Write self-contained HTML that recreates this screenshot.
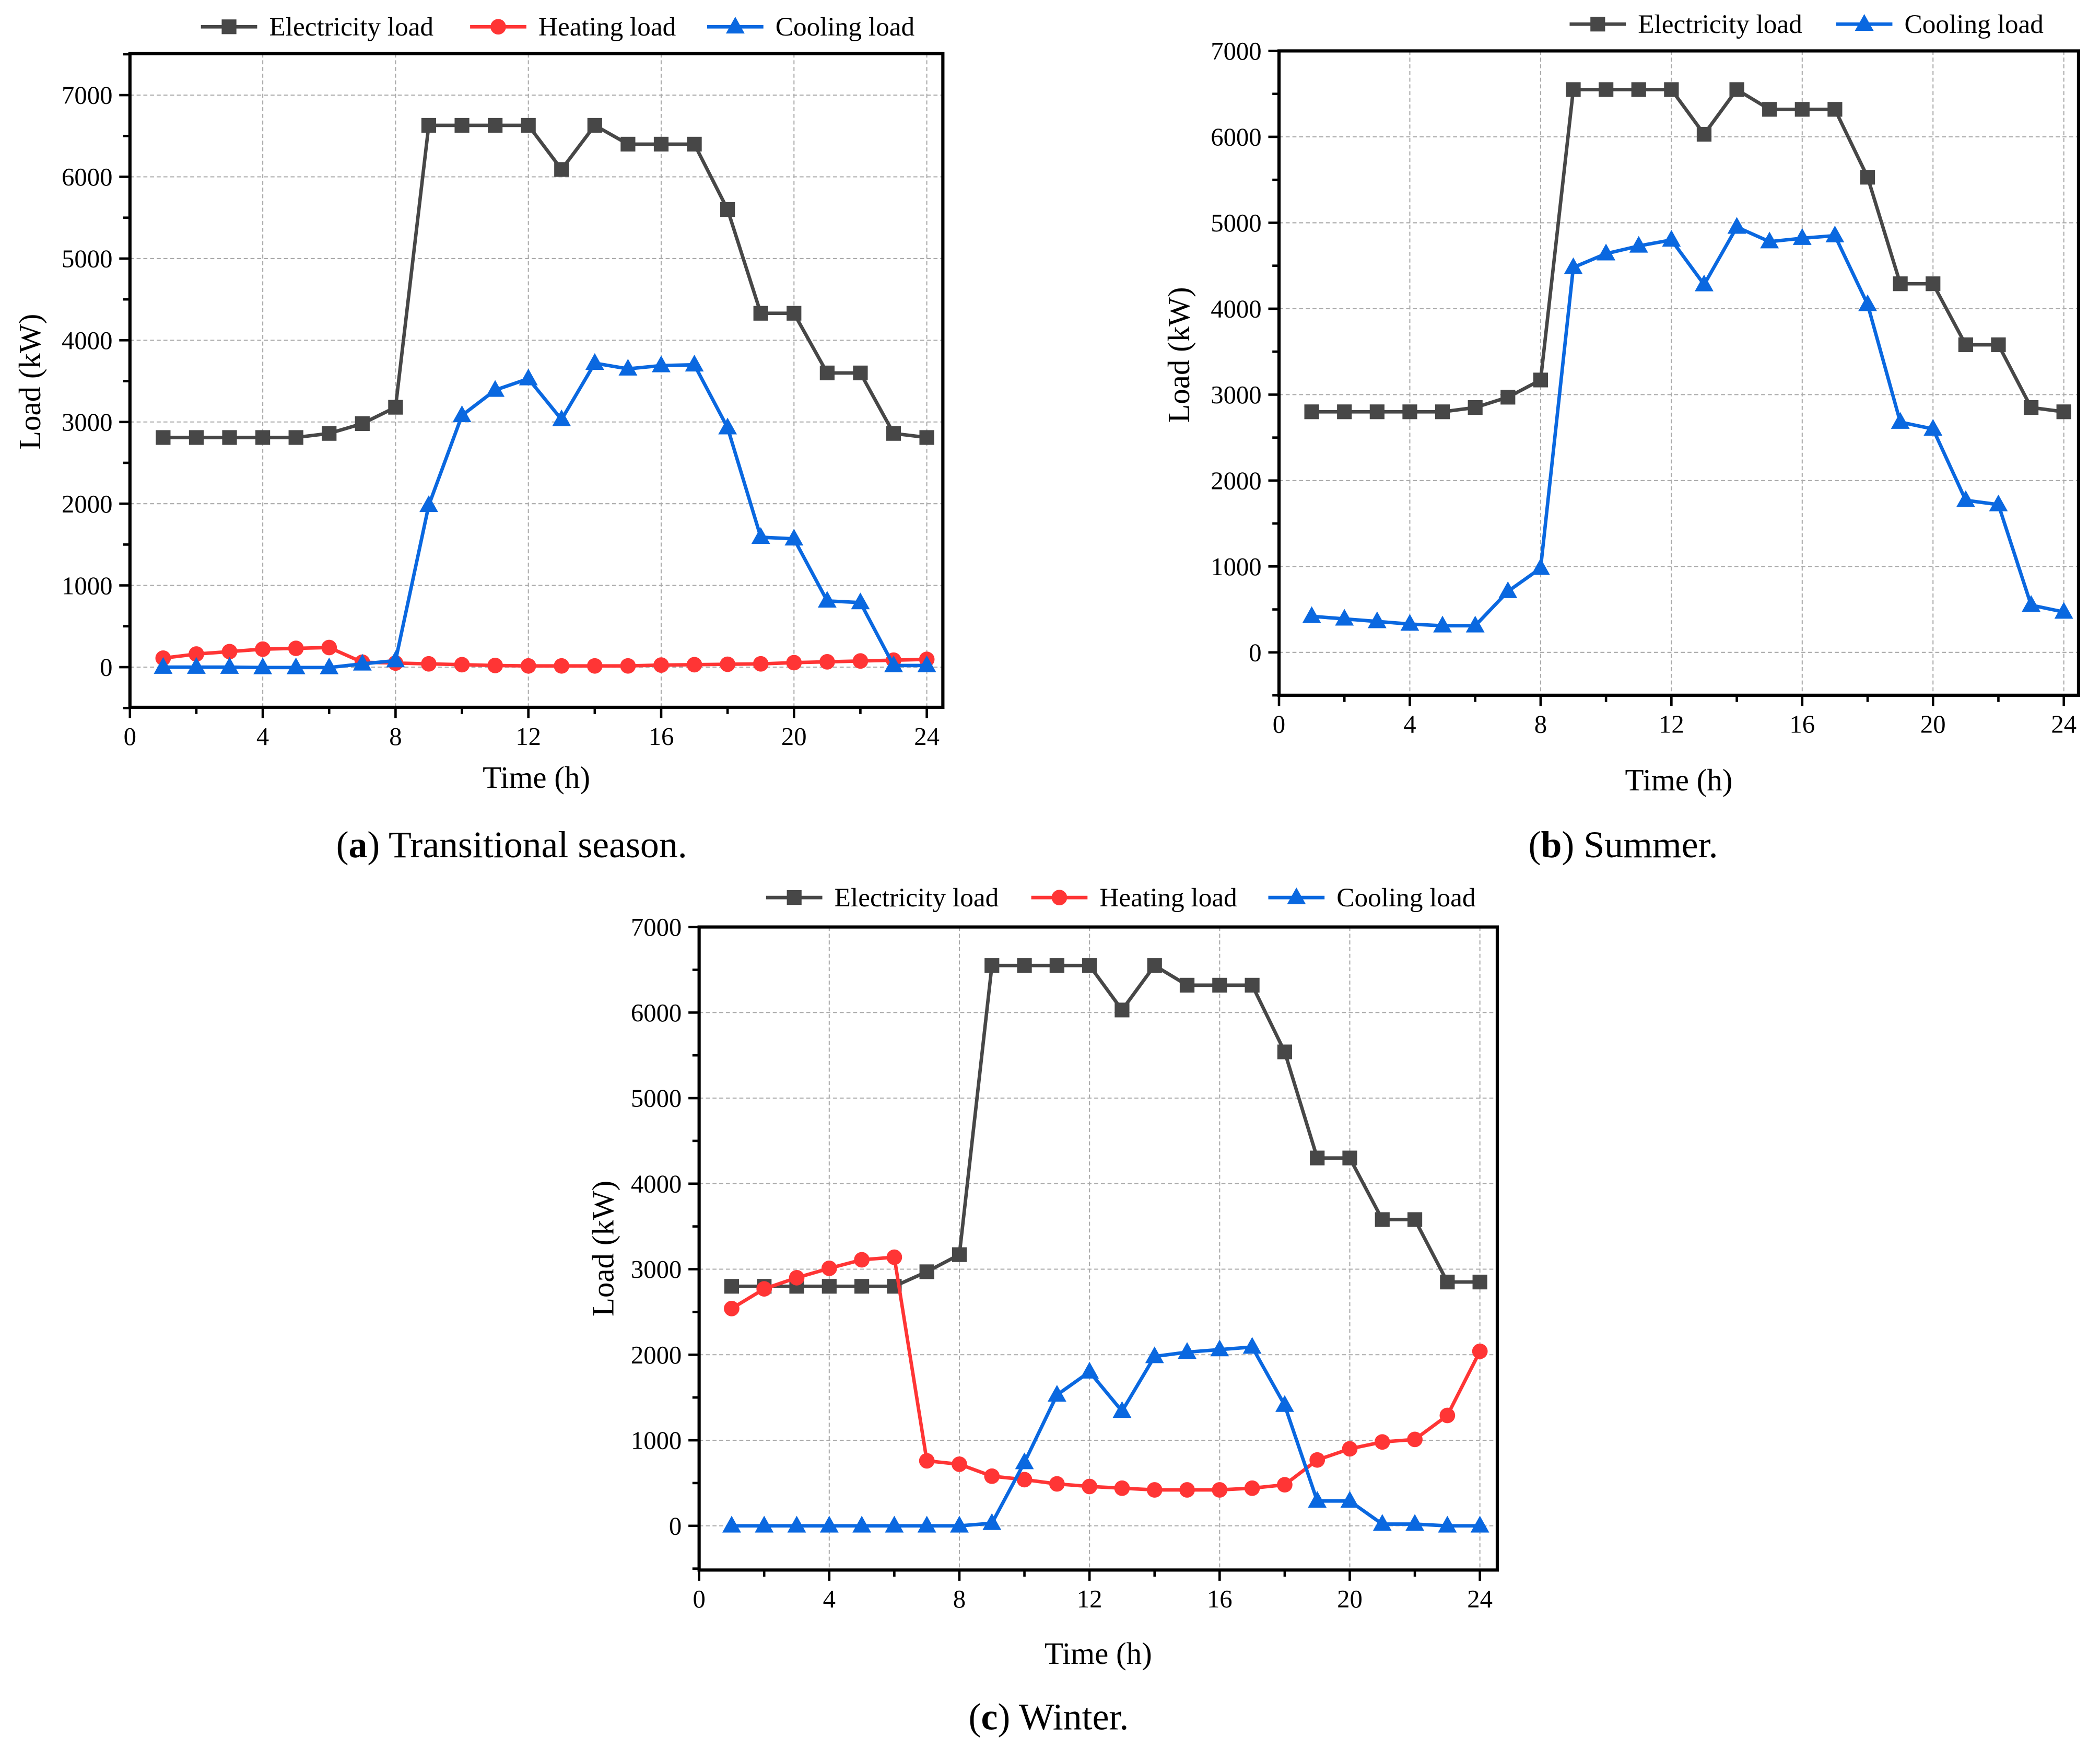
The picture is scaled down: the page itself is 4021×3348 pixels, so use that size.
<!DOCTYPE html>
<html><head><meta charset="utf-8"><style>html,body{margin:0;padding:0;background:#fff}svg{display:block}</style></head>
<body>
<svg id="fig" xmlns="http://www.w3.org/2000/svg" width="4021" height="3348" viewBox="0 0 1568 1305.6" font-family="Liberation Serif, serif"></svg>
<script>
const hours = [1,2,3,4,5,6,7,8,9,10,11,12,13,14,15,16,17,18,19,20,21,22,23,24];
const xTicks = [0,4,8,12,16,20,24];
const yTicks = [0,1000,2000,3000,4000,5000,6000,7000];
const aElec = [2810,2810,2810,2810,2810,2860,2980,3180,6630,6630,6630,6630,6090,6630,6400,6400,6400,5600,4330,4330,3600,3600,2860,2810];
const aHeat = [110,160,190,220,230,240,60,50,40,30,20,15,15,15,15,25,30,35,40,55,65,75,85,95];
const aCool = [0,0,0,-5,-5,-5,40,80,1980,3080,3390,3530,3030,3720,3650,3690,3700,2930,1590,1570,810,790,20,20];
const bElec = [2800,2800,2800,2800,2800,2850,2970,3170,6550,6550,6550,6550,6030,6550,6320,6320,6320,5530,4290,4290,3580,3580,2850,2800];
const bCool = [420,390,360,330,310,310,710,980,4480,4640,4730,4800,4280,4950,4780,4820,4850,4050,2680,2600,1770,1720,550,470];
const cElec = [2800,2800,2800,2800,2800,2800,2970,3170,6550,6550,6550,6550,6030,6550,6320,6320,6320,5540,4300,4300,3580,3580,2850,2850];
const cHeat = [2540,2770,2900,3010,3110,3140,760,720,580,540,490,460,440,420,420,420,440,480,770,900,980,1010,1290,2040];
const cCool = [0,0,0,0,0,0,0,0,30,740,1530,1800,1340,1980,2030,2060,2090,1410,290,290,20,20,0,0];

const NS='http://www.w3.org/2000/svg';
const svg=document.getElementById('fig');
function el(tag,attrs,parent,text){const e=document.createElementNS(NS,tag);for(const k in attrs)e.setAttribute(k,attrs[k]);if(text!==undefined)e.textContent=text;(parent||svg).appendChild(e);return e;}
const COL={elec:'#474747',heat:'#FF3535',cool:'#0A68E0'};
const LABEL={elec:'Electricity load',heat:'Heating load',cool:'Cooling load'};

function marker(g,type,x,y){
  let m;
  if(type==='elec') m=el('rect',{x:x-5.5,y:y-5.5,width:11,height:11,fill:COL.elec},g);
  else if(type==='heat') m=el('circle',{cx:x,cy:y,r:5.8,fill:COL.heat},g);
  else m=el('polygon',{points:`${x},${y-7.5} ${x-7},${y+5} ${x+7},${y+5}`,fill:COL.cool},g);
  
  
}

function panel(p){
  const g=el('g',{});
  
  
  const X=v=>p.x0+(v-0)*(p.x24-p.x0)/24;
  const Y=v=>p.y0+(v)*(p.y7000-p.y0)/7000;
  xTicks.forEach(t=>{if(t===0)return;const l=el('line',{x1:X(t),x2:X(t),y1:p.top,y2:p.bot,stroke:'#aaa','stroke-width':0.8,'stroke-dasharray':'3,2'},g);});
  yTicks.forEach(t=>{const l=el('line',{x1:p.left,x2:p.right,y1:Y(t),y2:Y(t),stroke:'#aaa','stroke-width':0.8,'stroke-dasharray':'3,2'},g);});
  p.series.forEach(s=>{
    const sg=el('g',{},g);
    
    
    const pts=hours.map((h,i)=>X(h)+','+Y(s.data[i])).join(' ');
    el('polyline',{points:pts,fill:'none',stroke:COL[s.type],'stroke-width':2.6,'stroke-linejoin':'round'},sg);
    hours.forEach((h,i)=>marker(sg,s.type,X(h),Y(s.data[i])));
  });
  const fr=el('rect',{x:p.left,y:p.top,width:p.right-p.left,height:p.bot-p.top,fill:'none',stroke:'#000','stroke-width':2.4},g);
  
  for(let t=0;t<=24;t+=2){const major=t%4===0;el('line',{x1:X(t),x2:X(t),y1:p.bot,y2:p.bot+(major?8:5),stroke:'#000','stroke-width':1.8},g);}
  xTicks.forEach(t=>{const tx=el('text',{x:X(t),y:p.bot+28,'font-size':19,'text-anchor':'middle'},g,String(t));});
  for(let v=-500;v<=p.ymax;v+=500){const major=v%1000===0;el('line',{x1:p.left,x2:p.left-(major?8:5),y1:Y(v),y2:Y(v),stroke:'#000','stroke-width':1.8},g);}
  yTicks.forEach(t=>{const tx=el('text',{x:p.left-13,y:Y(t)+6.5,'font-size':19,'text-anchor':'end'},g,String(t));});
  const yt=el('text',{x:p.ytx,y:p.yty,'font-size':23,'text-anchor':'middle',transform:`rotate(-90 ${p.ytx} ${p.yty})`},g,'Load (kW)');
  
  const xt=el('text',{x:(p.left+p.right)/2,y:p.xty,'font-size':23,'text-anchor':'middle'},g,'Time (h)');
  
  p.legend.forEach(L=>{
    const lg=el('g',{},g);
    
    
    el('line',{x1:L.x,x2:L.x+42,y1:p.ly,y2:p.ly,stroke:COL[L.type],'stroke-width':2.6},lg);
    marker(lg,L.type,L.x+21,p.ly);
    el('text',{x:L.x+51,y:p.ly+6.5,'font-size':20},lg,LABEL[L.type]);
  });
  const cap=el('text',{x:p.capx,y:p.capy,'font-size':28,'text-anchor':'middle'},g);
  
  el('tspan',{},cap,'(');el('tspan',{'font-weight':'bold'},cap,p.letter);el('tspan',{},cap,') '+p.caption);
}

panel({name:'panel-a-transitional',left:97,right:704,top:40,bot:528,x0:97,x24:692,y0:498,y7000:71,ymax:7500,
  series:[{type:'elec',data:aElec},{type:'heat',data:aHeat},{type:'cool',data:aCool}],
  legend:[{type:'elec',x:150},{type:'heat',x:351},{type:'cool',x:528}],ly:20,
  ytx:30,yty:285,xty:588,capx:382,capy:640,letter:'a',caption:'Transitional season.'});
panel({name:'panel-b-summer',left:955,right:1552,top:38,bot:519,x0:955,x24:1541,y0:487,y7000:38,ymax:7000,
  series:[{type:'elec',data:bElec},{type:'cool',data:bCool}],
  legend:[{type:'elec',x:1172},{type:'cool',x:1371}],ly:18,
  ytx:888,yty:265,xty:590,capx:1212,capy:640,letter:'b',caption:'Summer.'});
panel({name:'panel-c-winter',left:522,right:1118,top:692,bot:1172,x0:522,x24:1105,y0:1139,y7000:692,ymax:7000,
  series:[{type:'elec',data:cElec},{type:'heat',data:cHeat},{type:'cool',data:cCool}],
  legend:[{type:'elec',x:572},{type:'heat',x:770},{type:'cool',x:947}],ly:670,
  ytx:458,yty:932,xty:1242,capx:783,capy:1291,letter:'c',caption:'Winter.'});
</script>
</body></html>
